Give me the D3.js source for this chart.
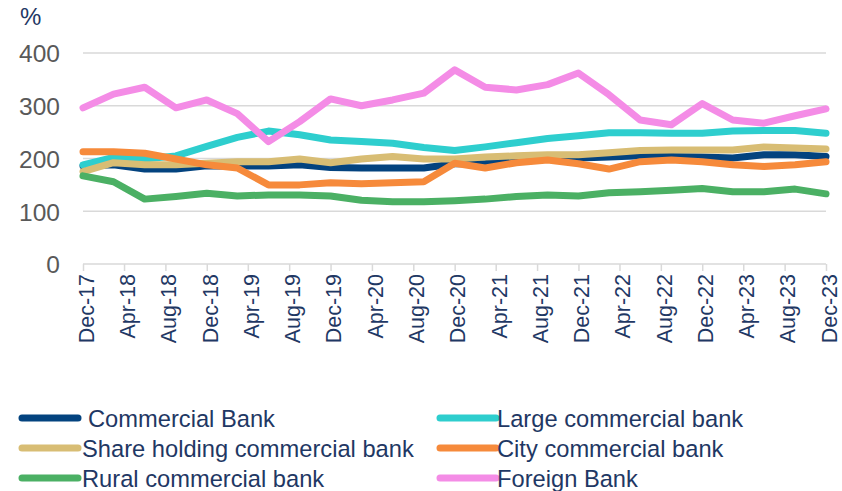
<!DOCTYPE html>
<html>
<head>
<meta charset="utf-8">
<script src="https://cdn.jsdelivr.net/npm/d3@7"></script>
<style>
  html, body { margin: 0; padding: 0; background: #ffffff; }
  svg { display: block; font-family: "Liberation Sans", Arial, sans-serif; }
</style>
</head>
<body>
<svg id="chart" width="842" height="491"></svg>
<script>
// Quarterly observation dates
const quarters = ["Dec-17","Mar-18","Jun-18","Sep-18","Dec-18","Mar-19","Jun-19","Sep-19","Dec-19",
  "Mar-20","Jun-20","Sep-20","Dec-20","Mar-21","Jun-21","Sep-21","Dec-21",
  "Mar-22","Jun-22","Sep-22","Dec-22","Mar-23","Jun-23","Sep-23","Dec-23"];

// Axis tick labels (every four months)
const tickLabels = ["Dec-17","Apr-18","Aug-18","Dec-18","Apr-19","Aug-19","Dec-19","Apr-20","Aug-20",
  "Dec-20","Apr-21","Aug-21","Dec-21","Apr-22","Aug-22","Dec-22","Apr-23","Aug-23","Dec-23"];
const yTicks = [0, 100, 200, 300, 400];

// Series values (%)
const commercialBank = [186,188,180,180,186,186,186,188,183,182,182,182,190,190,200,203,201,203,205,204,203,201,207,207,204];
const largeCommercial = [188,202,199,205,223,240,252,245,235,232,229,221,215,222,230,238,243,249,249,248,248,252,253,253,248];
const shareHolding = [175,192,188,188,191,194,194,199,192,199,204,199,199,203,205,207,207,211,215,216,216,216,222,220,218];
const cityCommercial = [213,213,210,199,188,182,150,150,154,152,154,156,191,182,192,197,190,180,194,197,194,188,185,188,194];
const ruralCommercial = [167,156,123,128,134,129,131,131,129,121,118,118,120,123,128,131,129,135,137,140,143,137,137,142,133];
const foreignBank = [296,322,335,296,311,285,232,270,313,300,311,324,368,335,330,340,362,321,273,264,304,273,267,281,294];

const seriesNames = ["Commercial Bank","Large commercial bank","Share holding commercial bank",
  "City commercial bank","Rural commercial bank","Foreign Bank"];
const seriesColors = ["#03437f","#2ecece","#d8bd74","#f68a3b","#4bb064","#f48ce6"];

const parse = d3.timeParse("%b-%y");
const seriesValues = [commercialBank, largeCommercial, shareHolding, cityCommercial, ruralCommercial, foreignBank];
const series = seriesNames.map((name, k) => ({
  name, color: seriesColors[k],
  points: quarters.map((q, i) => ({ date: parse(q), value: seriesValues[k][i] }))
}));

const svg = d3.select("#chart");
const x = d3.scaleTime().domain([parse("Dec-17"), parse("Dec-23")]).range([83, 826]);
const y = d3.scaleLinear().domain([0, 400]).range([264, 53]);

// Gridlines
svg.append("g").selectAll("line").data(yTicks.filter(d => d > 0)).join("line")
  .attr("x1", 83).attr("x2", 826)
  .attr("y1", d => y(d)).attr("y2", d => y(d))
  .attr("stroke", "#d9d9d9").attr("stroke-width", 1.3);

// Y axis labels
const yAxis = d3.axisLeft(y).tickValues(yTicks).tickSize(0).tickPadding(0);
const gy = svg.append("g").attr("transform", "translate(60,0)").call(yAxis);
gy.select(".domain").remove();
gy.selectAll("text").attr("fill", "#595959").attr("font-size", 24.5)
  .attr("font-family", "Liberation Sans, Arial, sans-serif").attr("dy", "0.36em");

// "%" unit
svg.append("text").attr("x", 20).attr("y", 25).attr("fill", "#1f3864")
  .attr("font-size", 24).text("%");

// X axis
const xAxis = d3.axisBottom(x).tickValues(tickLabels.map(parse))
  .tickFormat(d3.timeFormat("%b-%y")).tickSize(7).tickPadding(0);
const gx = svg.append("g").attr("transform", "translate(0,264)").call(xAxis);
gx.select(".domain").attr("stroke", "#d9d9d9").attr("stroke-width", 1.5)
  .attr("d", "M83,0H826");
gx.selectAll(".tick line").attr("stroke", "#d9d9d9").attr("stroke-width", 1.5);
gx.selectAll(".tick text")
  .attr("fill", "#1f3864").attr("font-size", 21.5)
  .attr("font-family", "Liberation Sans, Arial, sans-serif")
  .attr("text-anchor", "end")
  .attr("transform", "rotate(-90)")
  .attr("x", -10).attr("y", 0).attr("dy", "0.48em");

// Lines
const line = d3.line().x(d => x(d.date)).y(d => y(d.value));
svg.append("g").selectAll("path").data(series).join("path")
  .attr("d", d => line(d.points))
  .attr("fill", "none").attr("stroke", d => d.color)
  .attr("stroke-width", 7).attr("stroke-linejoin", "round").attr("stroke-linecap", "round");

// Legend
const legendPos = [
  { lx: 22, tx: 88, ty: 418 }, { lx: 440, tx: 497, ty: 418 },
  { lx: 22, tx: 82, ty: 448 }, { lx: 440, tx: 497, ty: 448 },
  { lx: 22, tx: 82, ty: 478 }, { lx: 440, tx: 497, ty: 478 }
];
const lg = svg.append("g").selectAll("g").data(series).join("g");
lg.append("line")
  .attr("x1", (d, i) => legendPos[i].lx).attr("x2", (d, i) => legendPos[i].lx + 56)
  .attr("y1", (d, i) => legendPos[i].ty).attr("y2", (d, i) => legendPos[i].ty)
  .attr("stroke", d => d.color).attr("stroke-width", 7).attr("stroke-linecap", "round");
lg.append("text")
  .attr("x", (d, i) => legendPos[i].tx).attr("y", (d, i) => legendPos[i].ty)
  .attr("dy", "0.36em").attr("fill", "#1f3864").attr("font-size", 23.7)
  .text(d => d.name);
</script>
</body>
</html>
